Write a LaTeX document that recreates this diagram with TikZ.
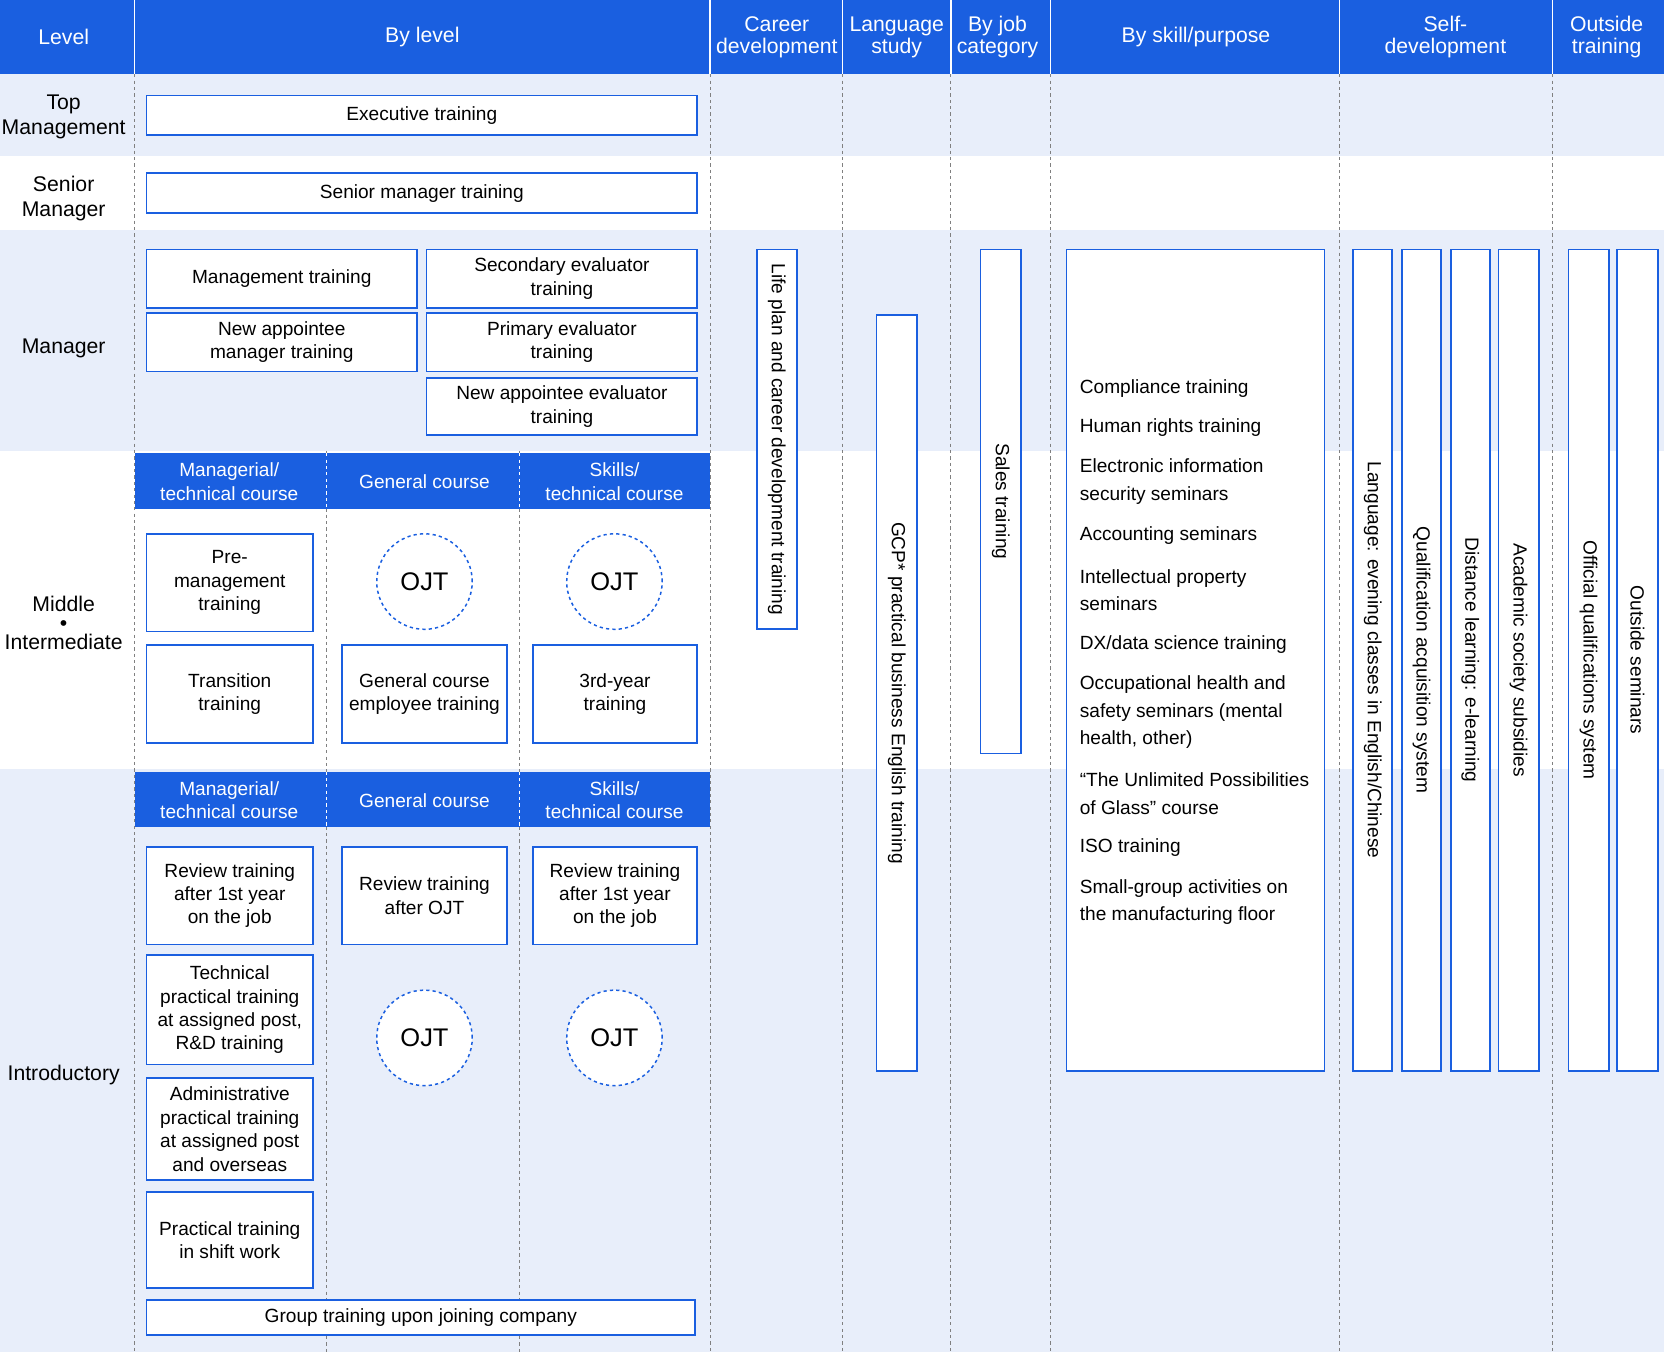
\documentclass[tikz,border=0pt]{standalone}
\usepackage{fontspec}
\setmainfont{Liberation Sans}
\definecolor{hb}{HTML}{1A5FE0}
\definecolor{lb}{HTML}{E8EEFA}
\begin{document}
\begin{tikzpicture}[x=1pt,y=-1pt,
  bx/.style={draw=hb,line width=1.6pt,fill=white,align=center,inner sep=0pt,font=\fontsize{18}{22}\selectfont},
  hd/.style={text=white,align=center,font=\fontsize{20}{21}\selectfont},
  sh/.style={text=white,align=center,font=\fontsize{18}{22}\selectfont},
  lv/.style={align=center,font=\fontsize{20}{24}\selectfont},
  oj/.style={draw=hb,dashed,line width=1.4pt,circle,minimum size=90pt,font=\fontsize{24}{26}\selectfont,fill=white},
  dv/.style={gray,dashed,line width=0.8pt},
  lst/.style={anchor=west,align=left,font=\fontsize{18}{26}\selectfont}]
\newcommand\bx[6]{\node[bx,minimum width=#4-#2,minimum height=#5-#3] (#1) at ({(#2+#4)/2},{(#3+#5)/2}) {#6};}
\newcommand\vb[6]{\node[bx,minimum width=#4-#2,minimum height=#5-#3] (#1) at ({(#2+#4)/2},{(#3+#5)/2}) {};
  \node[rotate=-90,font=\fontsize{18}{22}\selectfont] at ({(#2+#4)/2},{(#3+#5)/2}) {#6};}
\useasboundingbox (0,0) rectangle (1568,1274);
% bands
\fill[lb] (0,70) rectangle (1568,147);
\fill[lb] (0,217) rectangle (1568,425);
\fill[lb] (0,725) rectangle (1568,1274);
\fill[hb] (0,0) rectangle (1568,70);
\foreach \x in {127,669,794,896,990,1262,1463} {\draw[white,line width=1.2pt] (\x,0) -- (\x,70); \draw[dv] (\x,70) -- (\x,1274);}
\draw[dv] (308,425) -- (308,1274);
\draw[dv] (489,425) -- (489,1274);
% header
\node[hd] (h1) at (60,35) {Level};
\node[hd] (h2) at (398,35) {By level};
\node[hd] (h3) at (732,35) {Career\\development};
\node[hd] (h4) at (845,35) {Language\\study};
\node[hd] (h5) at (940,35) {By job\\category};
\node[hd] (h6) at (1127,35) {By skill/purpose};
\node[hd] (h7) at (1362,35) {Self-\\development};
\node[hd] (h8) at (1514,35) {Outside\\training};
% levels
\node[lv] (l1) at (60,110) {Top\\Management};
\node[lv] (l2) at (60,187) {Senior\\Manager};
\node[lv] (l3) at (60,328) {Manager};
\node[lv] (l4) at (60,587) {Middle\\[-6pt]•\\[-6pt]Intermediate};
\node[lv] (l5) at (60,1013) {Introductory};
% by level boxes
\bx{b1}{138}{90}{657}{127}{Executive training}
\bx{b2}{138}{163}{657}{201}{Senior manager training}
\bx{b3}{138}{235}{393}{290}{Management training}
\bx{b4}{402}{235}{657}{290}{Secondary evaluator\\training}
\bx{b5}{138}{295}{393}{350}{New appointee\\manager training}
\bx{b6}{402}{295}{657}{350}{Primary evaluator\\training}
\bx{b7}{402}{356}{657}{410}{New appointee evaluator\\training}
\fill[hb] (127,427) rectangle (669,480);
\draw[white,dashed,line width=0.8pt] (308,427) -- (308,480) (489,427) -- (489,480);
\node[sh] (s1) at (216,454) {Managerial/\\technical course};
\node[sh] (s2) at (400,454) {General course};
\node[sh] (s3) at (579,454) {Skills/\\technical course};
\bx{m1}{138}{503}{295}{595}{Pre-\\management\\training}
\node[oj] (o1) at (400,548) {OJT};
\node[oj] (o2) at (579,548) {OJT};
\bx{m2}{138}{608}{295}{700}{Transition\\training}
\bx{m3}{322}{608}{478}{700}{General course\\employee training}
\bx{m4}{502}{608}{657}{700}{3rd-year\\training}
\fill[hb] (127,727) rectangle (669,779);
\draw[white,dashed,line width=0.8pt] (308,727) -- (308,779) (489,727) -- (489,779);
\node[sh] (t1) at (216,754) {Managerial/\\technical course};
\node[sh] (t2) at (400,754) {General course};
\node[sh] (t3) at (579,754) {Skills/\\technical course};
\bx{i1}{138}{798}{295}{890}{Review training\\after 1st year\\on the job}
\bx{i2}{322}{798}{478}{890}{Review training\\after OJT}
\bx{i3}{502}{798}{657}{890}{Review training\\after 1st year\\on the job}
\bx{i4}{138}{900}{295}{1003}{Technical\\practical training\\at assigned post,\\R\&D training}
\node[oj] (o3) at (400,978) {OJT};
\node[oj] (o4) at (579,978) {OJT};
\bx{i5}{138}{1016}{295}{1112}{Administrative\\practical training\\at assigned post\\and overseas}
\bx{i6}{138}{1123}{295}{1214}{Practical training\\in shift work}
\bx{i7}{138}{1225}{655}{1258}{Group training upon joining company}
% vertical boxes
\vb{v1}{713}{235}{751}{593}{Life plan and career development training}
\vb{v2}{826}{297}{864}{1009}{GCP* practical business English training}
\vb{v3}{924}{235}{962}{710}{Sales training}
\bx{sk}{1005}{235}{1248}{1009}{}
\vb{v4}{1275}{235}{1312}{1009}{Language: evening classes in English/Chinese}
\vb{v5}{1321}{235}{1358}{1009}{Qualification acquisition system}
\vb{v6}{1367}{235}{1404}{1009}{Distance learning: e-learning}
\vb{v7}{1412}{235}{1450}{1009}{Academic society subsidies}
\vb{v8}{1478}{235}{1516}{1009}{Official qualifications system}
\vb{v9}{1524}{235}{1562}{1009}{Outside seminars}
% skill list
\node[lst] (k1) at (1014,366) {Compliance training};
\node[lst] (k2) at (1014,403) {Human rights training};
\node[lst] (k3) at (1014,454) {Electronic information\\security seminars};
\node[lst] (k4) at (1014,505) {Accounting seminars};
\node[lst] (k5) at (1014,556) {Intellectual property\\seminars};
\node[lst] (k6) at (1014,607) {DX/data science training};
\node[lst] (k7) at (1014,671) {Occupational health and\\safety seminars (mental\\health, other)};
\node[lst] (k8) at (1014,748) {“The Unlimited Possibilities\\of Glass” course};
\node[lst] (k9) at (1014,799) {ISO training};
\node[lst] (k10) at (1014,850) {Small-group activities on\\the manufacturing floor};
\end{tikzpicture}
\end{document}
